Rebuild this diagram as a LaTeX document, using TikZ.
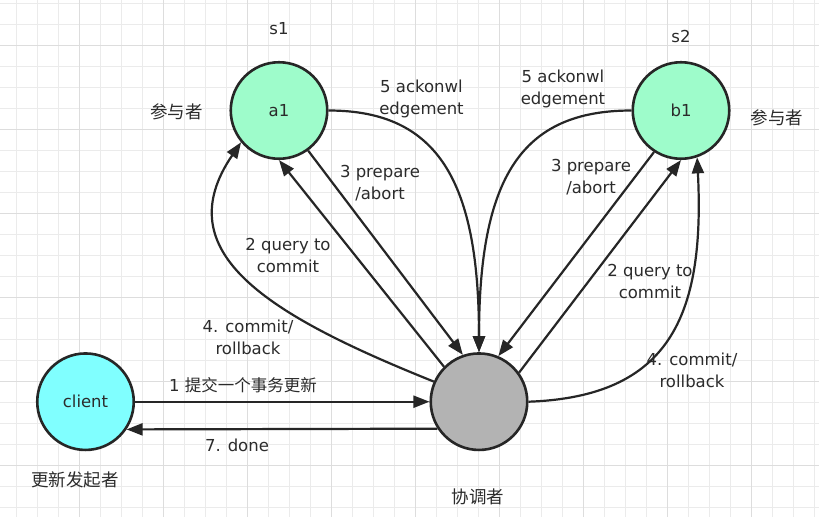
\documentclass[tikz,border=0pt]{standalone}
\usepackage{fontspec}
\setmainfont{DejaVu Sans}
\newfontfamily\cjk{Noto Sans CJK SC}
\usetikzlibrary{arrows.meta}
\definecolor{mint}{HTML}{9EFCCB}
\definecolor{cyanfill}{HTML}{80FFFF}
\definecolor{grayfill}{HTML}{B3B3B3}
\definecolor{ink}{HTML}{262626}
\definecolor{txt}{HTML}{2B2B2B}
\definecolor{gridminor}{HTML}{EBEBEB}
\definecolor{gridmajor}{HTML}{DDDDDD}
\begin{document}
\begin{tikzpicture}[x=1pt,y=-1pt,
  state/.style={circle, draw=ink, line width=2.6pt, minimum size=96.5pt, inner sep=0pt, font=\fontsize{16.5}{20}\selectfont, text=txt},
  lbl/.style={align=center, text=txt, font=\fontsize{16.5}{22}\selectfont, inner sep=0pt},
  cjklbl/.style={text=txt, font=\cjk\fontsize{17.5}{22}\selectfont, inner sep=0pt},
  conn/.style={draw=ink, line width=2.2pt, -{Triangle[length=16pt,width=12pt]}},
]
\useasboundingbox (0,0) rectangle (819,517);
\fill[white] (0,0) rectangle (819,517);
% grid
\foreach \i in {0,...,38} {\draw[gridminor, line width=1pt] ({16.3+21*\i},0) -- ({16.3+21*\i},517);}
\foreach \j in {0,...,24} {\draw[gridminor, line width=1pt] (0,{3.3+21*\j}) -- (819,{3.3+21*\j});}
\foreach \i in {3,7,...,35} {\draw[gridmajor, line width=1pt] ({16.3+21*\i},0) -- ({16.3+21*\i},517);}
\foreach \j in {2,6,...,22} {\draw[gridmajor, line width=1pt] (0,{3.3+21*\j}) -- (819,{3.3+21*\j});}

% states
\node[state, fill=mint] (a1) at (279,110.5) {a1};
\node[state, fill=mint] (b1) at (681,110.5) {b1};
\node[state, fill=cyanfill] (cl) at (85.5,401.7) {client};
\node[state, fill=grayfill] (co) at (479,401.7) {};

% plain texts
\node[lbl] (s1) at (279,29) {s1};
\node[lbl] (s2) at (681,36) {s2};
\node[cjklbl] (p1) at (176.5,111.5) {参与者};
\node[cjklbl] (p2) at (777,118) {参与者};
\node[cjklbl] (p3) at (478,497) {协调者};
\node[cjklbl] (p4) at (75,480) {更新发起者};

% edge labels
\node[lbl] (l1) at (243,385.5) {1 {\cjk 提交一个事务更新}};
\node[lbl] (l7) at (237,445) {7. done};
\node[lbl] (l5a) at (421.5,99) {5 ackonwl\\edgement};
\node[lbl] (l3a) at (380,183) {3 prepare\\/abort};
\node[lbl] (l2a) at (288,255) {2 query to\\commit};
\node[lbl] (l4a) at (248,337) {4. commit/\\rollback};
\node[lbl] (l5b) at (563,89) {5 ackonwl\\edgement};
\node[lbl] (l3b) at (591,177) {3 prepare\\/abort};
\node[lbl] (l2b) at (650,281) {2 query to\\commit};
\node[lbl] (l4b) at (692,370) {4. commit/\\rollback};

% connectors
\draw[conn] (cl.east) -- (co.west);
\draw[conn] (co.213.5) -- (cl.326.5);
\draw[conn] (a1.306) -- (co.109);
\draw[conn] (co.135) -- (a1.270);
\draw[conn] (a1.east) .. controls +(110,0) and +(0,-170) .. (co.north);
\draw[conn] (co.156) .. controls +(-167,-67) and +(-75,110) .. (a1.220);
\draw[conn] (b1.237) -- (co.67);
\draw[conn] (co.36) -- (b1.270);
\draw[conn] (b1.west) .. controls +(-110,0) and +(0,-175) .. (co.north);
\draw[conn] (co.east) .. controls +(140,-5) and +(8,160) .. (b1.289);
\end{tikzpicture}
\end{document}
